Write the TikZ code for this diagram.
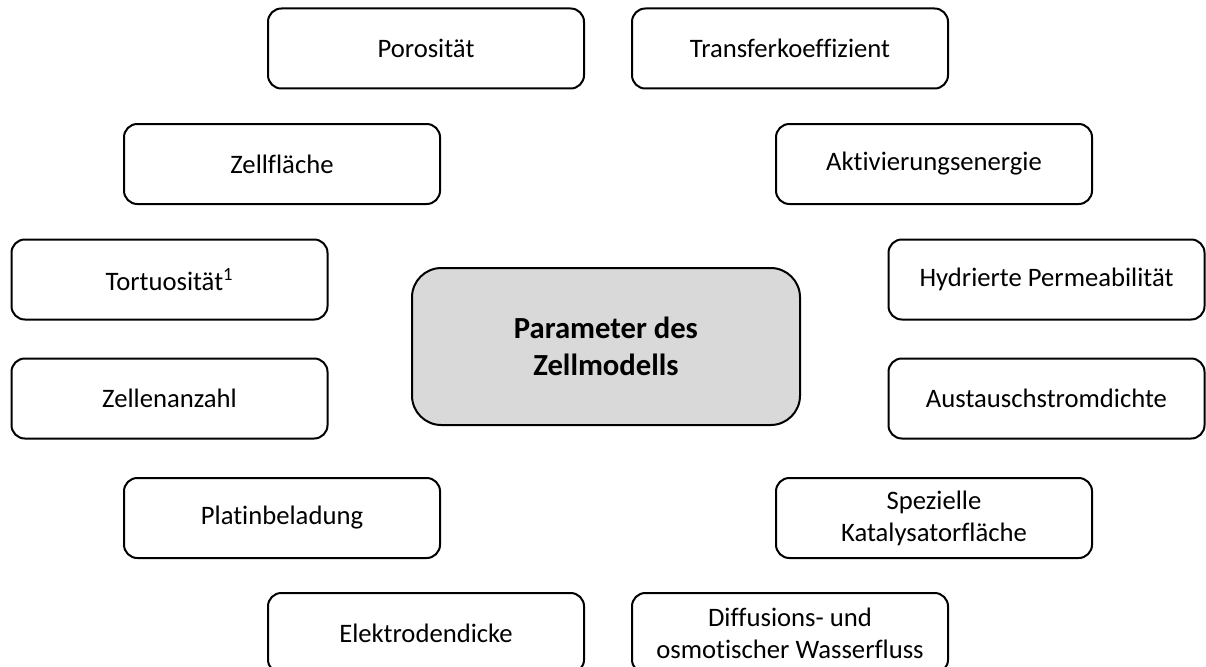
\documentclass[tikz,border=0pt]{standalone}
\usepackage{fontspec}
\setmainfont{Carlito}[Ligatures={NoCommon}]
\definecolor{hubgray}{HTML}{D9D9D9}
\begin{document}
\begin{tikzpicture}[x=0.75pt,y=-0.75pt,
  param/.style={draw=black, line width=1.5pt, rounded corners=10pt, fill=white,
    minimum width=237pt, minimum height=60pt, inner sep=2pt, outer sep=0pt,
    align=center, font=\fontsize{20}{24}\selectfont},
  hub/.style={draw=black, line width=1.5pt, rounded corners=22pt, fill=hubgray,
    minimum width=291pt, minimum height=117.75pt, inner sep=2pt, outer sep=0pt,
    align=center, font=\fontsize{23}{28}\selectfont\bfseries}]
\useasboundingbox (0,0) rectangle (1206,667);

% central node
\node[hub] (centre) at (606,346.5) {Parameter des\\Zellmodells};

% parameters, left side
\node[param] (poro)    at (426,48.5)    {Porosität};
\node[param] (flaeche) at (282,164)     {Zellfläche};
\node[param] (tort)    at (169.5,279.5) {Tortuosität\textsuperscript{1}};
\node[param] (anzahl)  at (169.5,398.5) {Zellenanzahl};
\node[param] (platin)  at (282,518)     {Platinbeladung};
\node[param] (dicke)   at (426,633)     {Elektrodendicke};

% parameters, right side
\node[param] (transfer) at (790,48.5)     {Transferkoeffizient};
\node[param] (aktiv)    at (934,164)      {Aktivierungsenergie};
\node[param] (perm)     at (1046.5,279.5) {Hydrierte Permeabilität};
\node[param] (strom)    at (1046.5,398.5) {Austauschstromdichte};
\node[param] (kat)      at (934,518)      {Spezielle\\Katalysatorfläche};
\node[param] (wasser)   at (790,633)      {Diffusions- und\\osmotischer Wasserfluss};
\end{tikzpicture}
\end{document}
